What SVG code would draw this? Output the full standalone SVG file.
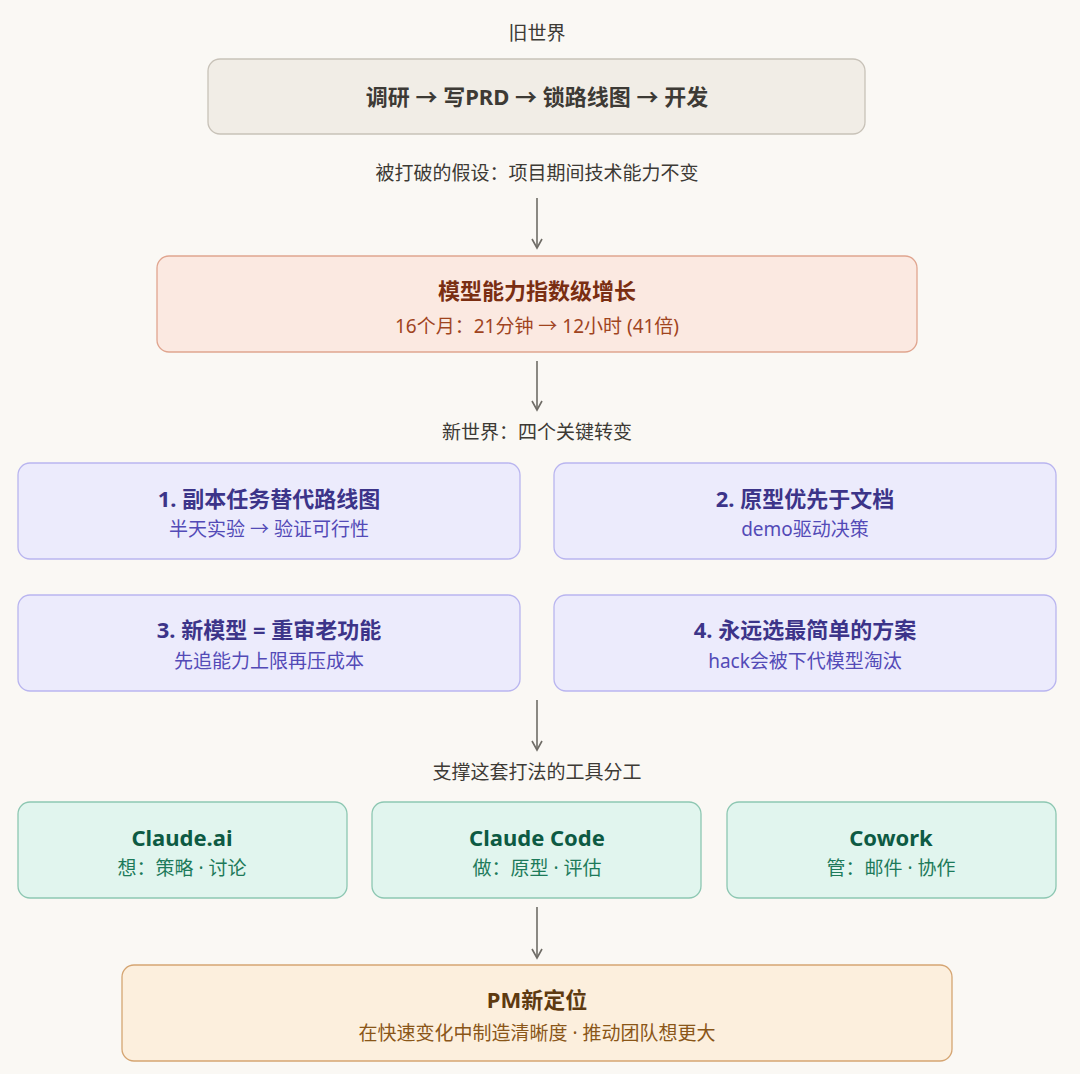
<svg xmlns="http://www.w3.org/2000/svg" width="1080" height="1074" viewBox="0 0 1080 1074">
<defs>
<marker id="ah" viewBox="0 0 12 12" refX="10" refY="6" markerWidth="12" markerHeight="12" markerUnits="userSpaceOnUse" orient="auto"><path d="M1 1 L10 6 L1 11" fill="none" stroke="#6f6c66" stroke-width="1.6"/></marker>
</defs>
<style>
text{font-family:"Noto Sans","Noto Sans CJK SC",sans-serif;text-anchor:middle}
.lbl{font-size:19px;fill:#3d3a35}
.t{font-size:22px;font-weight:bold}
.s{font-size:19px}
.g rect{stroke-width:1.3}
.gray rect{fill:#f1ede6;stroke:#c8c2b8}
.red rect{fill:#fbe9e1;stroke:#e0a58f}
.pur rect{fill:#ecebfc;stroke:#b9b5ef}
.pur .t{fill:#3c3489}.pur .s{fill:#534ab7}
.grn rect{fill:#e1f5ee;stroke:#8dc7b2}
.grn .t{fill:#0d5a43}.grn .s{fill:#1d7a5a}
.org rect{fill:#fcefdd;stroke:#d5a572}
</style>
<rect width="1080" height="1074" fill="#faf8f4"/>
<text class="lbl" x="537" y="40">旧世界</text>
<text class="lbl" x="537" y="180">被打破的假设：项目期间技术能力不变</text>
<text class="lbl" x="537" y="439">新世界：四个关键转变</text>
<text class="lbl" x="537" y="779">支撑这套打法的工具分工</text>
<g id="connectors" stroke="#6f6c66" stroke-width="1.6" marker-end="url(#ah)">
<line x1="537" y1="198" x2="537" y2="248"/>
<line x1="537" y1="361" x2="537" y2="410"/>
<line x1="537" y1="700" x2="537" y2="750"/>
<line x1="537" y1="907" x2="537" y2="958"/>
</g>
<g id="old" class="g gray"><rect x="208" y="59" width="657" height="75" rx="12"/><text class="t" x="537" y="105" fill="#3d3a35">调研 → 写PRD → 锁路线图 → 开发</text></g>
<g id="growth" class="g red"><rect x="157" y="256" width="760" height="96" rx="12"/><text class="t" x="537" y="299" fill="#7a2e12">模型能力指数级增长</text><text class="s" x="537" y="333" fill="#a0441e">16个月：21分钟 → 12小时 (41倍)</text></g>
<g id="s1" class="g pur"><rect x="18" y="463" width="502" height="96" rx="12"/><text class="t" x="269" y="507">1. 副本任务替代路线图</text><text class="s" x="269" y="536">半天实验 → 验证可行性</text></g>
<g id="s2" class="g pur"><rect x="554" y="463" width="502" height="96" rx="12"/><text class="t" x="805" y="507">2. 原型优先于文档</text><text class="s" x="805" y="536">demo驱动决策</text></g>
<g id="s3" class="g pur"><rect x="18" y="595" width="502" height="96" rx="12"/><text class="t" x="269" y="638">3. 新模型 = 重审老功能</text><text class="s" x="269" y="668">先追能力上限再压成本</text></g>
<g id="s4" class="g pur"><rect x="554" y="595" width="502" height="96" rx="12"/><text class="t" x="805" y="638">4. 永远选最简单的方案</text><text class="s" x="805" y="668">hack会被下代模型淘汰</text></g>
<g id="t1" class="g grn"><rect x="18" y="802" width="329" height="96" rx="12"/><text class="t" x="182" y="846">Claude.ai</text><text class="s" x="182" y="875">想：策略 · 讨论</text></g>
<g id="t2" class="g grn"><rect x="372" y="802" width="329" height="96" rx="12"/><text class="t" x="537" y="846">Claude Code</text><text class="s" x="537" y="875">做：原型 · 评估</text></g>
<g id="t3" class="g grn"><rect x="727" y="802" width="329" height="96" rx="12"/><text class="t" x="891" y="846">Cowork</text><text class="s" x="891" y="875">管：邮件 · 协作</text></g>
<g id="pm" class="g org"><rect x="122" y="965" width="830" height="96" rx="12"/><text class="t" x="537" y="1008" fill="#5e3a10">PM新定位</text><text class="s" x="537" y="1040" fill="#8a5618">在快速变化中制造清晰度 · 推动团队想更大</text></g>
</svg>
